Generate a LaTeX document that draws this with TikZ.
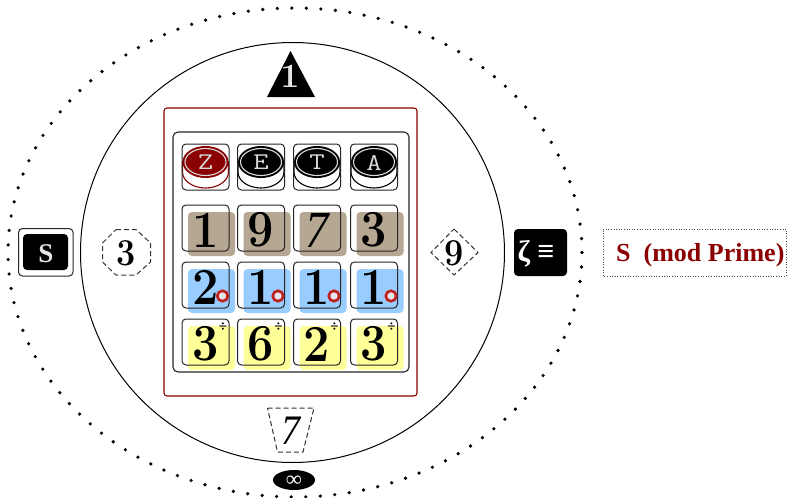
\documentclass[tikz,border=0pt]{standalone}
\usepackage{fontspec}
\usetikzlibrary{shapes.geometric}
\newfontfamily\labelfont{Liberation Serif}
\definecolor{zred}{HTML}{8B0000}
\definecolor{tan}{HTML}{B5A792}
\definecolor{sky}{HTML}{99CCFF}
\definecolor{lemon}{HTML}{FFFF99}
\definecolor{ringred}{HTML}{C02020}
\tikzset{
  x=1pt,y=-1pt,
  tile/.style={draw=black!85,line width=1pt,rounded corners=4pt},
  digit/.style={inner sep=0pt,xscale=.9,font=\fontsize{#1}{#1}\selectfont\bfseries},
  digit/.default=52,
  keycap/.style={inner sep=0pt,xscale=1.25,text=white!85!black,font=\ttfamily\fontsize{24}{24}\selectfont},
  dashline/.style={draw=black!80,line width=1pt,dash pattern=on 5pt off 3pt},
  plate/.style={fill=black,rounded corners=4pt},
}
\newcommand{\keytop}[4]{% x, colour, letter, name
  \draw[#2,line width=1.1pt] (#1-23,161) -- (#1-23,172) arc[start angle=180,end angle=360,x radius=23,y radius=-16] -- (#1+23,161);
  \fill[#2] (#1,162) ellipse[x radius=23,y radius=16];
  \draw[white!85!black,line width=1.1pt] (#1,162) ellipse[x radius=20.5,y radius=13.5];
  \node[keycap] (#4) at (#1,162.5) {#3};
  \draw[tile] (#1-23.5,144) rectangle (#1+23.5,190);
}
\newcommand{\numtile}[7]{% x, top y, colour, digit, name, slant, mark
  \fill[#3,rounded corners=4pt] (#1-17.5,#2+7) rectangle (#1+29.5,#2+51);
  \draw[tile] (#1-23.5,#2) rectangle (#1+23.5,#2+46);
  \node[digit,#6] (#5) at (#1,#2+25) {#4};
  #7
}
\newcommand{\ringmark}[3]{%
  \node[circle,draw=ringred,fill=black!10,line width=2.6pt,minimum size=10.5pt,inner sep=0pt] (#3) at (#1+17,#2+34) {};
}
\newcommand{\divmark}[3]{%
  \node[inner sep=0pt,font=\labelfont\bfseries\fontsize{15}{15}\selectfont] (#3) at (#1+17.5,#2+8.5) {÷};
}
\begin{document}
\begin{tikzpicture}
\useasboundingbox (0,0) rectangle (788,498);
\fill[white] (0,0) rectangle (788,498);
% rings
\draw[line width=3.6pt,line cap=round,dash pattern=on 0pt off 14.55pt] (295,252.5) ellipse[x radius=287,y radius=244.5];
\draw[black,line width=1pt] (292.5,252.5) ellipse[x radius=212,y radius=210];
% frames
\draw[zred,line width=1.1pt,rounded corners=3pt] (164,108) rectangle (417,396);
\draw[black!85,line width=1.1pt,rounded corners=5pt] (173,132) rectangle (409,372);
% keys
\keytop{205.5}{zred}{Z}{kz}
\keytop{261}{black}{E}{ke}
\keytop{317}{black}{T}{kt}
\keytop{374}{black}{A}{ka}
% tiles
\numtile{205.5}{205}{tan}{1}{a1}{}{}
\numtile{261}{205}{tan}{9}{a2}{}{}
\numtile{317}{205}{tan}{\labelfont\mdseries\itshape 7}{a3}{}{}
\numtile{374}{205}{tan}{3}{a4}{}{}
\numtile{205.5}{262}{sky}{2}{b1}{}{\ringmark{205.5}{262}{r1}}
\numtile{261}{262}{sky}{1}{b2}{}{\ringmark{261}{262}{r2}}
\numtile{317}{262}{sky}{1}{b3}{}{\ringmark{317}{262}{r3}}
\numtile{374}{262}{sky}{1}{b4}{}{\ringmark{374}{262}{r4}}
\numtile{205.5}{319}{lemon}{3}{c1}{}{\divmark{205.5}{319}{d1}}
\numtile{261}{319}{lemon}{6}{c2}{}{\divmark{261}{319}{d2}}
\numtile{317}{319}{lemon}{2}{c3}{}{\divmark{317}{319}{d3}}
\numtile{374}{319}{lemon}{3}{c4}{}{\divmark{374}{319}{d4}}
% top triangle
\fill[black] (290.5,51) -- (315,97) -- (267,97) -- cycle;
\node[inner sep=0pt,text=white!90!black,font=\fontsize{34}{34}\selectfont\bfseries] (tri) at (290,76) {1};
% left
\draw[black!85,line width=1pt,rounded corners=4pt] (18.5,228.5) rectangle (73,276);
\fill[plate] (23,234) rectangle (68,270);
\node[inner sep=0pt,text=white!90!black,font=\labelfont\bfseries\fontsize{27}{27}\selectfont] (sbox) at (46,254) {S};
% octagon
\draw[dashline] (116,229.5) -- (136,229.5) -- (150.5,243) -- (150.5,262) -- (136,275) -- (116,275) -- (102.5,262) -- (102.5,243) -- cycle;
\node[digit=38] (n3) at (126,253) {3};
% diamond
\draw[dashline] (454,229) -- (478,252.5) -- (454,275) -- (431,252.5) -- cycle;
\node[digit=38] (n9) at (454,253) {9};
% zeta
\fill[plate] (514,229) rectangle (567,276);
\node[inner sep=0pt,text=white,font=\labelfont\bfseries\fontsize{30}{30}\selectfont] (ze) at (536,254) {ζ ≡};
% label
\draw[black!70,line width=.9pt,dash pattern=on .9pt off 1.7pt] (786,229) -- (603,229) -- (603,276) -- (786,276) -- cycle;
\node[inner sep=0pt,anchor=west,text=zred,font=\labelfont\bfseries\fontsize{26}{26}\selectfont] (lab) at (616,255) {S\hspace{.5em}(mod Prime)};
% bottom
\draw[dashline] (267.5,408) -- (314,408) -- (303,452) -- (277.5,452) -- cycle;
\node[digit=42] (n7) at (291,431) {\labelfont\mdseries\itshape 7};
\node[ellipse,fill=black,minimum width=42pt,minimum height=20pt,inner sep=0pt] (inf) at (294,480) {};
\node[inner sep=0pt,text=white,font=\labelfont\bfseries\fontsize{22}{22}\selectfont] at (294,481) {∞};
\end{tikzpicture}
\end{document}
